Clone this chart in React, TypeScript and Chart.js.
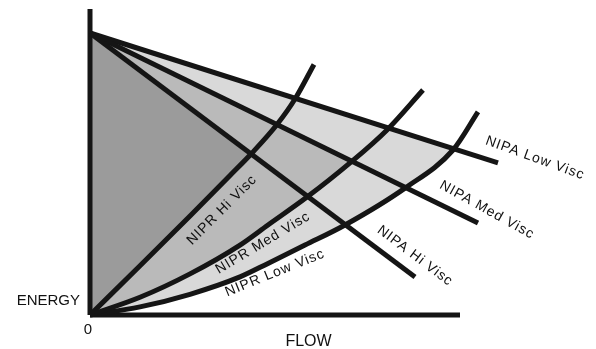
import React, { useEffect, useRef } from "react";
import { Chart, registerables } from "chart.js";

Chart.register(...registerables);

// NIPA lines (straight, from common apex on the ENERGY axis)
const nipaHiFlow = [0, 65];
const nipaHiEnergy = [94, 12.7];
const nipaMedFlow = [0, 77.6];
const nipaMedEnergy = [94, 30.7];
const nipaLowFlow = [0, 81.6];
const nipaLowEnergy = [94, 50.7];

// NIPR curves (from origin)
const niprHiFlow = [0, 10, 20, 28, 32.4, 37.4, 41, 44.8];
const niprHiEnergy = [0, 16.4, 33, 46.5, 54, 63.5, 72, 83.5];
const niprMedFlow = [0, 10, 20, 30, 35.6, 43.4, 52, 59.4, 66.6];
const niprMedEnergy = [0, 5.9, 13.7, 23.3, 30, 39.3, 50.7, 61.7, 75];
const niprLowFlow = [0, 10, 20, 30, 35.6, 43, 51, 63, 72.6, 77.6];
const niprLowEnergy = [0, 2.7, 6.9, 12.7, 17.2, 23.3, 30, 42.3, 55, 67.7];

// Axes
const energyAxisFlow = [0, 0];
const energyAxisEnergy = [0, 102];
const flowAxisFlow = [0, 74];
const flowAxisEnergy = [0, 0];

// Curve labels
const labelTexts = [
  "NIPR Hi Visc",
  "NIPR Med Visc",
  "NIPR Low Visc",
  "NIPA Hi Visc",
  "NIPA Med Visc",
  "NIPA Low Visc",
];
const labelFlow = [26.4, 34.6, 37, 65, 79.4, 89];
const labelEnergy = [35, 24, 14, 19.7, 35, 52.3];
const labelAngle = [-45, -31, -22, 37, 29, 20];

// Axis texts
const axisTexts = ["ENERGY", "0", "FLOW"];
const axisTextFlow = [-2, -0.4, 43.7];
const axisTextEnergy = [4.8, -5, -8.7];
const axisTextAlign: CanvasTextAlign[] = ["right", "center", "center"];
const axisTextSize = [15, 15, 16];

function pts(xs: number[], ys: number[]) {
  return xs.map((x, i) => ({ x, y: ys[i] }));
}

const FONT = '"Liberation Sans", Arial, Helvetica, sans-serif';

const labelPlugin = {
  id: "curveLabels",
  afterDatasetsDraw(chart: any) {
    const { ctx, scales } = chart;
    const xs = scales.x;
    const ys = scales.y;
    ctx.save();
    ctx.fillStyle = "#111";
    ctx.textAlign = "center";
    ctx.textBaseline = "middle";
    ctx.font = `14px ${FONT}`;
    (ctx as any).letterSpacing = "1px";
    labelTexts.forEach((t, i) => {
      ctx.save();
      ctx.translate(xs.getPixelForValue(labelFlow[i]), ys.getPixelForValue(labelEnergy[i]));
      ctx.rotate((labelAngle[i] * Math.PI) / 180);
      ctx.fillText(t, 0, 0);
      ctx.restore();
    });
    (ctx as any).letterSpacing = "0px";
    axisTexts.forEach((t, i) => {
      ctx.font = `${axisTextSize[i]}px ${FONT}`;
      ctx.textAlign = axisTextAlign[i];
      ctx.fillText(t, xs.getPixelForValue(axisTextFlow[i]), ys.getPixelForValue(axisTextEnergy[i]));
    });
    ctx.restore();
  },
};

export default function App() {
  const ref = useRef<HTMLCanvasElement>(null);
  useEffect(() => {
    const canvas = ref.current!;
    const ink = "#151515";
    const dark = "#9b9b9b";
    const med = "#bababa";
    const light = "#d9d9d9";
    const none = "rgba(0,0,0,0)";
    const base: any = {
      showLine: true,
      pointRadius: 0,
      pointHoverRadius: 0,
      borderColor: ink,
      borderWidth: 5,
      borderCapStyle: "butt",
      borderJoinStyle: "round",
      clip: false,
      backgroundColor: none,
    };
    const chart = new Chart(canvas, {
      type: "scatter",
      data: {
        datasets: [
          { ...base, data: pts(nipaHiFlow, nipaHiEnergy), fill: { target: 3, above: dark, below: none } },
          { ...base, data: pts(nipaMedFlow, nipaMedEnergy), fill: { target: 4, above: med, below: none } },
          { ...base, data: pts(nipaLowFlow, nipaLowEnergy), fill: { target: 5, above: light, below: none } },
          { ...base, data: pts(niprHiFlow, niprHiEnergy), cubicInterpolationMode: "monotone" },
          { ...base, data: pts(niprMedFlow, niprMedEnergy), cubicInterpolationMode: "monotone" },
          { ...base, data: pts(niprLowFlow, niprLowEnergy), cubicInterpolationMode: "monotone" },
          { ...base, data: pts(energyAxisFlow, energyAxisEnergy), borderWidth: 5 },
          { ...base, data: pts(flowAxisFlow, flowAxisEnergy), borderWidth: 5 },
        ],
      },
      options: {
        animation: false,
        responsive: false,
        events: [],
        layout: { padding: { left: 90, right: 6, top: 9, bottom: 34 } },
        scales: {
          x: { type: "linear", min: 0, max: 100, display: false },
          y: { type: "linear", min: 0, max: 102, display: false },
        },
        plugins: {
          legend: { display: false },
          tooltip: { enabled: false },
          filler: { drawTime: "beforeDatasetsDraw" } as any,
        },
      },
      plugins: [labelPlugin],
    });
    return () => chart.destroy();
  }, []);
  return (
    <div style={{ position: "absolute", left: 0, top: 0, width: 596, height: 349, background: "#fff" }}>
      <canvas ref={ref} width={596} height={349} style={{ display: "block", width: 596, height: 349 }} />
    </div>
  );
}
